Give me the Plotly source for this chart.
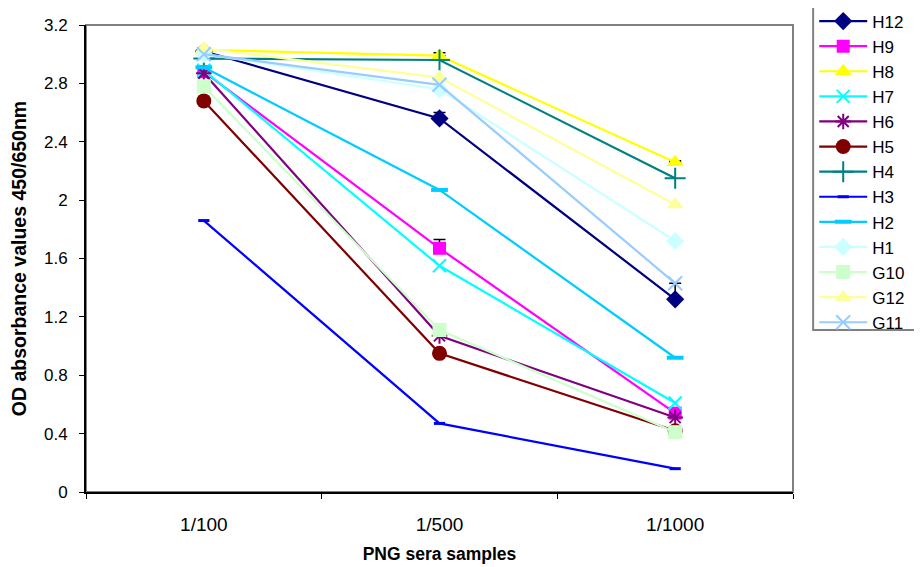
import plotly.graph_objects as go

categories = ["1/100", "1/500", "1/1000"]

series_names = ["H12", "H9", "H8", "H7", "H6", "H5", "H4", "H3", "H2", "H1", "G10", "G12", "G11"]
H12 = [3.02, 2.56, 1.32]
H9 = [2.88, 1.67, 0.54]
H8 = [3.03, 2.99, 2.26]
H7 = [2.89, 1.55, 0.61]
H6 = [2.87, 1.07, 0.51]
H5 = [2.68, 0.95, 0.42]
H4 = [2.97, 2.96, 2.15]
H3 = [1.86, 0.47, 0.16]
H2 = [2.91, 2.07, 0.92]
H1 = [3.00, 2.76, 1.72]
G10 = [2.78, 1.11, 0.41]
G12 = [3.04, 2.84, 1.97]
G11 = [3.00, 2.79, 1.43]
values = [H12, H9, H8, H7, H6, H5, H4, H3, H2, H1, G10, G12, G11]

# upper error bars (only visible on a few series)
err_H12 = [0.01, 0.04, 0.11]
err_H9 = [0.0, 0.06, 0.0]
err_H8 = [0.0, 0.02, 0.01]
errors = {"H12": err_H12, "H9": err_H9, "H8": err_H8}

colors = ["#000080", "#FF00FF", "#FFFF00", "#00FFFF", "#800080", "#800000",
          "#008080", "#0000FF", "#00CCFF", "#CCFFFF", "#CCFFCC", "#FFFF99", "#99CCFF"]
symbols = ["diamond", "square", "triangle-up", "x-thin-open", "asterisk-open", "circle",
           "cross-thin-open", "line-ew-open", "line-ew-open", "diamond", "square",
           "triangle-up", "x-thin-open"]
sizes = [14, 13, 15, 13, 13, 15, 15, 8, 12, 14, 14, 15, 14]

fig = go.Figure()
for name, vals, col, sym, sz in zip(series_names, values, colors, symbols, sizes):
    open_sym = sym.endswith("-open")
    lw = 2
    if sym == "line-ew-open":
        lw = 4 if name == "H2" else 3
    marker = dict(symbol=sym, size=sz, color=col,
                  line=dict(color=col, width=lw if open_sym else 0))
    kw = {}
    if name in errors:
        kw["error_y"] = dict(type="data", array=errors[name], arrayminus=[0, 0, 0],
                             visible=True, color="black", thickness=1.5, width=6)
    fig.add_trace(go.Scatter(x=categories, y=vals, name=name, mode="lines+markers",
                             line=dict(color=col, width=2.2), marker=marker, **kw))

# plot-area border (grey top/right)
fig.add_shape(type="rect", xref="paper", yref="paper", x0=0, y0=0, x1=1, y1=1,
              line=dict(color="#808080", width=2), layer="below")
# legend box
fig.add_shape(type="rect", xref="paper", yref="paper", x0=1.0285, y0=0.347, x1=1.25, y1=1.1,
              line=dict(color="#808080", width=2), fillcolor="rgba(0,0,0,0)", layer="above")

fig.update_layout(
    width=914, height=559,
    paper_bgcolor="white", plot_bgcolor="white",
    margin=dict(l=78, r=129, t=17, b=75, autoexpand=False),
    font=dict(family="Liberation Sans, Arial, sans-serif", color="black", size=16),
    showlegend=True,
    legend=dict(x=1.03, xanchor="left", y=1.046, yanchor="top",
                borderwidth=0, bgcolor="rgba(0,0,0,0)",
                font=dict(size=17), itemwidth=48, tracegroupgap=0, maxheight=1.0),
)
fig.update_xaxes(type="category", range=[-0.5, 2.5], tickson="boundaries",
                 ticks="outside", ticklen=5, tickcolor="black", showgrid=False,
                 showline=True, linecolor="black", linewidth=2,
                 tickfont=dict(size=19), ticklabelstandoff=14,
                 title=dict(text="<b>PNG sera samples</b>", font=dict(size=17.5), standoff=14))
fig.update_yaxes(range=[0, 3.2], dtick=0.4, tick0=0, ticks="outside", ticklen=5,
                 tickcolor="black", showgrid=False, zeroline=False,
                 showline=True, linecolor="black", linewidth=2,
                 tickfont=dict(size=17), ticklabelstandoff=8,
                 title=dict(text="<b>OD absorbance values 450/650nm</b>", font=dict(size=19.5), standoff=12))

fig.write_html("out.html")
